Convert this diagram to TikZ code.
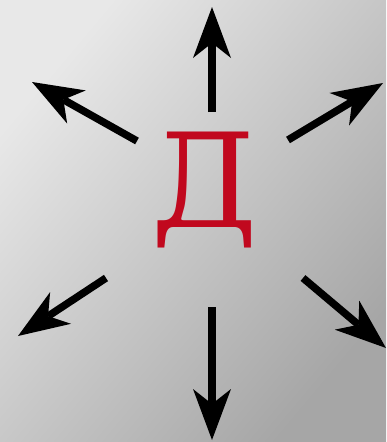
\documentclass[tikz,border=0pt]{standalone}
\usepackage{fontspec}
\newfontfamily\letterfont{DejaVu Serif}
\usetikzlibrary{arrows.meta}
\definecolor{bgTL}{HTML}{E8E8E8}
\definecolor{bgBR}{HTML}{A6A6A6}
\definecolor{letterred}{HTML}{C1081E}
\tikzset{
  ray/.style={line width=7.5pt, black,
    -{Stealth[length=51pt,width=38pt,inset=15pt,line width=0pt]}},
}
\begin{document}
\begin{tikzpicture}[x=1pt,y=-1pt]
\shade[top color=bgTL, bottom color=bgBR, shading angle=50] (0,0) rectangle (386,442);
\useasboundingbox (0,0) rectangle (386,442);
\node[anchor=base, inner sep=0pt, text=letterred, font=\letterfont\fontsize{131}{131}\selectfont] (letter) at (205,227) {Д};
\coordinate (uT) at (212,112); \coordinate (uH) at (212,7);
\coordinate (dT) at (212,307); \coordinate (dH) at (212,440);
\coordinate (ulT) at (137,141); \coordinate (ulH) at (32,82);
\coordinate (urT) at (288,140); \coordinate (urH) at (383,83);
\coordinate (llT) at (106,278); \coordinate (llH) at (18,336);
\coordinate (lrT) at (303,278); \coordinate (lrH) at (386,348);
\draw[ray] (uT) -- (uH);
\draw[ray] (dT) -- (dH);
\draw[ray] (ulT) -- (ulH);
\draw[ray] (urT) -- (urH);
\draw[ray] (llT) -- (llH);
\draw[ray] (lrT) -- (lrH);
\end{tikzpicture}
\end{document}
